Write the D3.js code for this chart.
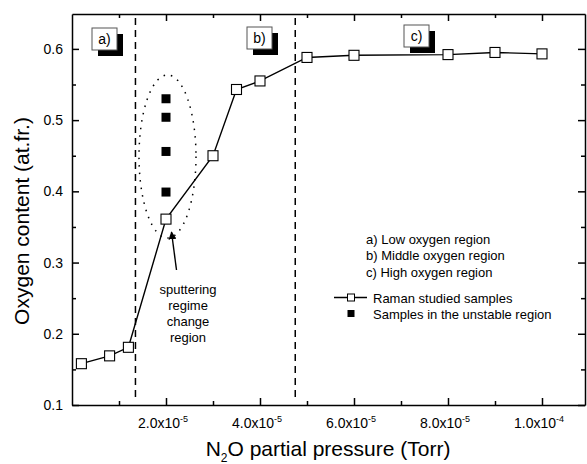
<!DOCTYPE html>
<meta charset="utf-8">
<style>
body { margin: 0; background: #fff; }
text { font-family: "Liberation Sans", Arial, sans-serif; fill: #000; }
.axis path, .axis line { stroke: #000; stroke-width: 1.5px; }
</style>
<body>
<script src="https://cdn.jsdelivr.net/npm/d3@7"></script>
<script>
var width = 587, height = 464;

// Raman studied samples (open squares, connected)
var pressure = [0.2e-5, 0.8e-5, 1.2e-5, 2.0e-5, 3.0e-5, 3.5e-5, 4.0e-5, 5.0e-5, 6.0e-5, 8.0e-5, 9.0e-5, 1.0e-4];
var oxygen = [0.158, 0.169, 0.181, 0.361, 0.450, 0.543, 0.555, 0.588, 0.591, 0.592, 0.595, 0.593];

// samples in the unstable region (filled squares)
var unstableP = [2.0e-5, 2.0e-5, 2.0e-5, 2.0e-5];
var unstableO = [0.530, 0.504, 0.456, 0.399];

// region borders (dashed)
var borders = [1.35e-5, 4.75e-5];

var xTicks = [2e-5, 4e-5, 6e-5, 8e-5, 1e-4];
var xTickLabels = [["2.0x10", "-5"], ["4.0x10", "-5"], ["6.0x10", "-5"], ["8.0x10", "-5"], ["1.0x10", "-4"]];
var xMinor = [1e-5, 3e-5, 5e-5, 7e-5, 9e-5];
var yTicks = [0.1, 0.2, 0.3, 0.4, 0.5, 0.6];
var yMinor = [0.15, 0.25, 0.35, 0.45, 0.55];

var regionLabels = ["a)", "b)", "c)"];
var legendLines = ["a) Low oxygen region", "b) Middle oxygen region", "c) High oxygen region"];

var pLeft = 72, pRight = 585, pTop = 14, pBottom = 405;

var x = d3.scaleLinear().domain([0, 1.0915e-4]).range([pLeft, pRight]);
var y = d3.scaleLinear().domain([0.1, 0.649]).range([pBottom, pTop]);

var svg = d3.select("body").append("svg")
    .attr("width", width)
    .attr("height", height);

// frame + inward ticks on all four sides
function ticksAxis(axisFn, scale, major, minor, tx, ty) {
  var g = svg.append("g").attr("class", "axis").attr("transform", "translate(" + tx + "," + ty + ")");
  g.call(axisFn(scale).tickValues(major).tickSizeInner(-7).tickSizeOuter(0).tickFormat(""));
  var gm = svg.append("g").attr("class", "axis").attr("transform", "translate(" + tx + "," + ty + ")");
  gm.call(axisFn(scale).tickValues(minor).tickSizeInner(-4).tickSizeOuter(0).tickFormat(""));
  gm.select(".domain").remove();
  return g;
}
ticksAxis(d3.axisBottom, x, xTicks, xMinor, 0, pBottom);
ticksAxis(d3.axisTop, x, xTicks, xMinor, 0, pTop);
ticksAxis(d3.axisLeft, y, yTicks, yMinor, pLeft, 0);
ticksAxis(d3.axisRight, y, yTicks, yMinor, pRight, 0);

// tick labels
var xl = svg.append("g").selectAll("text")
    .data(xTicks)
  .enter().append("text")
    .attr("x", function(d) { return x(d) - 3; })
    .attr("y", pBottom + 23)
    .attr("text-anchor", "middle")
    .style("font-size", "14px");
xl.append("tspan").text(function(d, i) { return xTickLabels[i][0]; });
xl.append("tspan").attr("dy", -6).style("font-size", "9px")
    .text(function(d, i) { return xTickLabels[i][1]; });

svg.append("g").selectAll("text")
    .data(yTicks)
  .enter().append("text")
    .attr("x", pLeft - 9)
    .attr("y", function(d) { return y(d) + 5; })
    .attr("text-anchor", "end")
    .style("font-size", "14px")
    .text(function(d) { return d3.format(".1f")(d); });

// axis titles
var xt = svg.append("text")
    .attr("x", 328)
    .attr("y", 456)
    .attr("text-anchor", "middle")
    .style("font-size", "21px");
xt.append("tspan").text("N");
xt.append("tspan").attr("dy", 6).style("font-size", "12px").text("2");
xt.append("tspan").attr("dy", -6).text("O partial pressure (Torr)");

svg.append("text")
    .attr("transform", "translate(29,221) rotate(-90)")
    .attr("text-anchor", "middle")
    .style("font-size", "21px")
    .text("Oxygen content (at.fr.)");

// dashed region borders
svg.append("g").selectAll("line")
    .data(borders)
  .enter().append("line")
    .attr("x1", function(d) { return x(d); })
    .attr("x2", function(d) { return x(d); })
    .attr("y1", pTop + 4)
    .attr("y2", pBottom - 4)
    .attr("stroke", "#000")
    .attr("stroke-width", 1.5)
    .attr("stroke-dasharray", "7,5");

// dotted ellipse around unstable samples
svg.append("ellipse")
    .attr("cx", x(2e-5) + 1.5)
    .attr("cy", 156.5)
    .attr("rx", 28.5)
    .attr("ry", 81.5)
    .attr("fill", "none")
    .attr("stroke", "#000")
    .attr("stroke-width", 1.5)
    .attr("stroke-dasharray", "1.5,6");

// connecting line
var pts = pressure.map(function(d, i) { return [d, oxygen[i]]; });
svg.append("path")
    .datum(pts)
    .attr("fill", "none")
    .attr("stroke", "#000")
    .attr("stroke-width", 1.4)
    .attr("d", d3.line().x(function(d) { return x(d[0]); }).y(function(d) { return y(d[1]); }));

// open squares
svg.append("g").selectAll("rect")
    .data(pts)
  .enter().append("rect")
    .attr("x", function(d) { return x(d[0]) - 5; })
    .attr("y", function(d) { return y(d[1]) - 5; })
    .attr("width", 10)
    .attr("height", 10)
    .attr("fill", "#fff")
    .attr("stroke", "#000")
    .attr("stroke-width", 1.1);

// filled squares
svg.append("g").selectAll("rect")
    .data(unstableO)
  .enter().append("rect")
    .attr("x", function(d, i) { return x(unstableP[i]) - 4.5; })
    .attr("y", function(d) { return y(d) - 4.5; })
    .attr("width", 9)
    .attr("height", 9)
    .attr("fill", "#000");

// region label boxes with shadow
var boxes = svg.append("g").selectAll("g")
    .data(regionLabels)
  .enter().append("g")
    .attr("transform", function(d, i) {
      var bx = [92, 247, 404][i], by = [28, 27, 25][i];
      return "translate(" + bx + "," + by + ")";
    });
boxes.append("rect")
    .attr("x", 6).attr("y", 6).attr("width", 25).attr("height", 22)
    .attr("fill", "#000");
boxes.append("rect")
    .attr("x", 0).attr("y", 0).attr("width", 25).attr("height", 22)
    .attr("fill", "#fff").attr("stroke", "#555").attr("stroke-width", 1);
boxes.append("text")
    .attr("x", 12.5).attr("y", 16)
    .attr("text-anchor", "middle")
    .style("font-size", "14px")
    .text(function(d) { return d; });

// arrow and annotation
svg.append("defs").append("marker")
    .attr("id", "head")
    .attr("viewBox", "0 0 10 10")
    .attr("refX", 9).attr("refY", 5)
    .attr("markerWidth", 8).attr("markerHeight", 8)
    .attr("markerUnits", "userSpaceOnUse")
    .attr("orient", "auto")
  .append("path")
    .attr("d", "M0,0L10,5L0,10z")
    .attr("fill", "#000");
svg.append("line")
    .attr("x1", 176.5).attr("y1", 270)
    .attr("x2", 171.5).attr("y2", 232)
    .attr("stroke", "#000")
    .attr("stroke-width", 1.4)
    .attr("marker-end", "url(#head)");

var notes = ["sputtering", "regime", "change", "region"];
svg.append("g").selectAll("text")
    .data(notes)
  .enter().append("text")
    .attr("x", 188)
    .attr("y", function(d, i) { return 294 + i * 16; })
    .attr("text-anchor", "middle")
    .style("font-size", "13px")
    .text(function(d) { return d; });

// legend
svg.append("g").selectAll("text")
    .data(legendLines)
  .enter().append("text")
    .attr("x", 366)
    .attr("y", function(d, i) { return 244 + i * 16.3; })
    .style("font-size", "13px")
    .text(function(d) { return d; });

svg.append("line")
    .attr("x1", 334).attr("x2", 367).attr("y1", 297.5).attr("y2", 297.5)
    .attr("stroke", "#000").attr("stroke-width", 1.4);
svg.append("rect")
    .attr("x", 347.5).attr("y", 294).attr("width", 7).attr("height", 7)
    .attr("fill", "#fff").attr("stroke", "#000").attr("stroke-width", 1);
svg.append("rect")
    .attr("x", 347.5).attr("y", 310).attr("width", 7).attr("height", 7)
    .attr("fill", "#000");
svg.append("text").attr("x", 373).attr("y", 302.5).style("font-size", "13px").text("Raman studied samples");
svg.append("text").attr("x", 373).attr("y", 318.5).style("font-size", "13px").text("Samples in the unstable region");
</script>
</body>
</html>
